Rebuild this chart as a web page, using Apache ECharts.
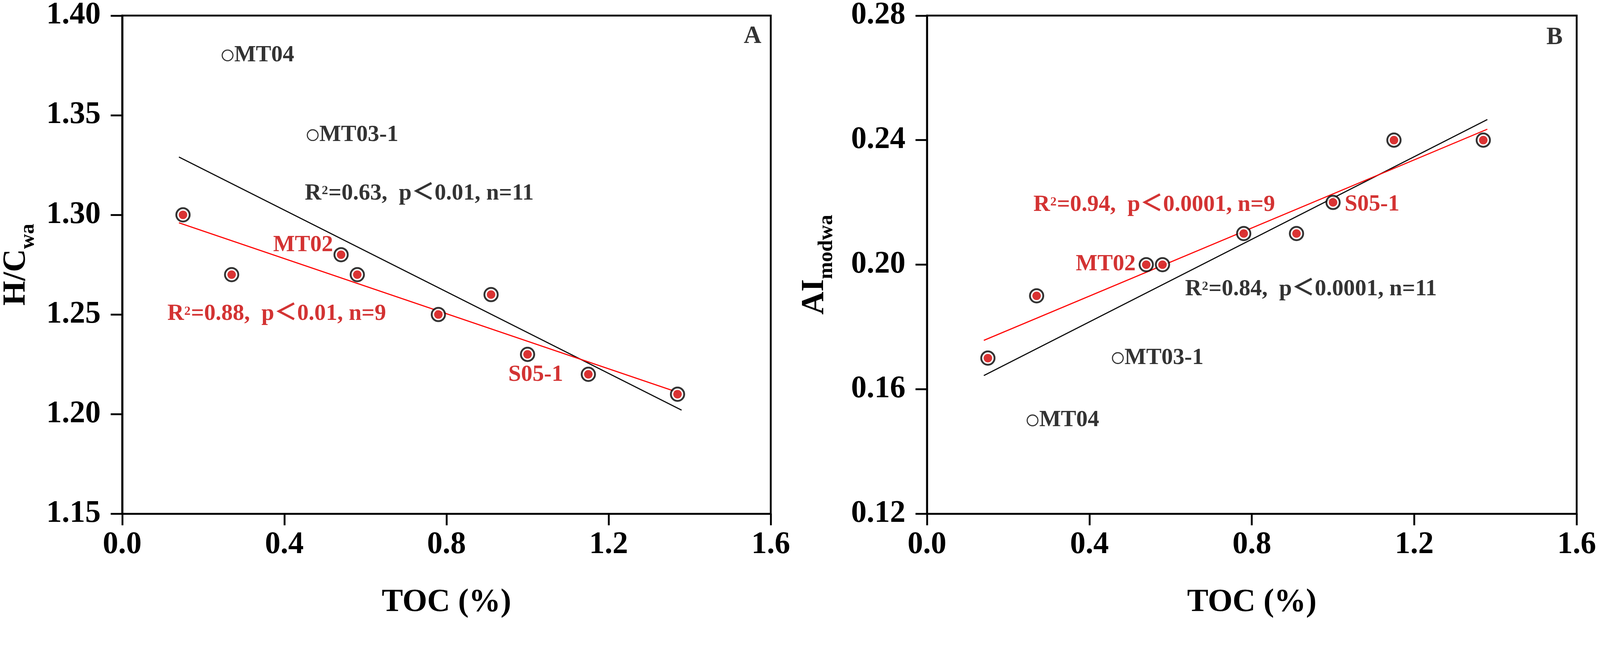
<!DOCTYPE html>
<html>
<head>
<meta charset="utf-8">
<title>H/C and AI vs TOC</title>
<script src="https://cdn.jsdelivr.net/npm/echarts@6/dist/echarts.min.js"></script>
<style>
  html, body { margin: 0; padding: 0; background: #fff; overflow: hidden; }
  #main { width: 100vw; height: 100vh; }
</style>
</head>
<body>
<div id="main"></div>
<script>
var FONT = "'Liberation Serif', 'Times New Roman', 'Noto Sans CJK SC', serif";
var RED_TEXT = '#c80000';
var RED_DOT = '#d10000';
var RED_LINE = '#ff0000';

// samples used in the fit (red dots)
var tocFit = [0.15, 0.27, 0.54, 0.58, 0.78, 0.91, 1.00, 1.15, 1.37];
var hcFit  = [1.30, 1.27, 1.28, 1.27, 1.25, 1.26, 1.23, 1.22, 1.21];
var aiFit  = [0.17, 0.19, 0.20, 0.20, 0.21, 0.21, 0.22, 0.24, 0.24];

// samples left out (open circles)
var outNames = ['MT04', 'MT03-1'];
var tocOut = [0.26, 0.47];
var hcOut  = [1.38, 1.34];
var aiOut  = [0.15, 0.17];

// regression lines, ends
var lineX      = [0.14, 1.38];
var lineXRedA  = [0.14, 1.37];
var hcLineAll  = [1.329, 1.202];   // n=11, black
var hcLineFit  = [1.296, 1.211];   // n=9, red
var aiLineAll  = [0.1644, 0.2466]; // n=11, black
var aiLineFit  = [0.1757, 0.2435]; // n=9, red

// axis ticks
var xTicks  = [0.0, 0.4, 0.8, 1.2, 1.6];
var hcTicks = [1.15, 1.20, 1.25, 1.30, 1.35, 1.40];
var aiTicks = [0.12, 0.16, 0.20, 0.24, 0.28];

// text notes: [x, y, text, isRed]
var notesA = [
    [0.450, 1.3107, 'R²=0.63,  p＜0.01, n=11', false],
    [0.372, 1.2847, 'MT02', true],
    [0.111, 1.2502, 'R²=0.88,  p＜0.01, n=9', true],
    [0.952, 1.2196, 'S05-1', true],
    [1.533, 1.3894, 'A', false]
];
var notesB = [
    [0.2615, 0.2192, 'R²=0.94,  p＜0.0001, n=9', true],
    [1.028, 0.2193, 'S05-1', true],
    [0.366, 0.2001, 'MT02', true],
    [0.635, 0.1921, 'R²=0.84,  p＜0.0001, n=11', false],
    [1.525, 0.2728, 'B', false]
];

function pairs(xs, ys) {
    return xs.map(function (x, i) { return [x, ys[i]]; });
}

var chart = echarts.init(document.getElementById('main'));

// layout was measured on a 4322 x 1682 picture; scale it to the real canvas
var sx = chart.getWidth() / 4322;
var sy = chart.getHeight() / 1682;
var s = Math.min(sx, sy);
function px(v) { return v * s; }

function xAxisFor(idx) {
    return {
        gridIndex: idx,
        type: 'value',
        min: xTicks[0],
        max: xTicks[xTicks.length - 1],
        interval: 0.4,
        name: 'TOC (%)',
        nameLocation: 'middle',
        nameGap: px(197),
        nameTextStyle: { fontFamily: FONT, fontWeight: 'bold', fontSize: px(86), color: '#000' },
        axisLine: { lineStyle: { color: '#000', width: px(5) } },
        axisTick: { inside: false, length: px(31), lineStyle: { color: '#000', width: px(5) } },
        axisLabel: {
            margin: px(42), fontFamily: FONT, fontWeight: 'bold', fontSize: px(84), color: '#000',
            showMinLabel: true, showMaxLabel: true, hideOverlap: false,
            formatter: function (v) { return v.toFixed(1); }
        },
        splitLine: { show: false }
    };
}

function yAxisFor(idx, ticks, main, sub, gap) {
    return {
        gridIndex: idx,
        type: 'value',
        min: ticks[0],
        max: ticks[ticks.length - 1],
        interval: Math.round((ticks[1] - ticks[0]) * 100) / 100,
        name: '{m|' + main + '}{s|' + sub + '}',
        nameLocation: 'middle',
        nameGap: px(gap),
        nameTextStyle: {
            rich: {
                m: { fontFamily: FONT, fontWeight: 'bold', fontSize: px(86), lineHeight: px(120), color: '#000' },
                s: { fontFamily: FONT, fontWeight: 'bold', fontSize: px(56), lineHeight: px(56), verticalAlign: 'bottom', color: '#000' }
            }
        },
        axisLine: { lineStyle: { color: '#000', width: px(5) } },
        axisTick: { inside: false, length: px(31), lineStyle: { color: '#000', width: px(5) } },
        axisLabel: {
            margin: px(58), fontFamily: FONT, fontWeight: 'bold', fontSize: px(84), color: '#000',
            showMinLabel: true, showMaxLabel: true,
            formatter: function (v) { return v.toFixed(2); }
        },
        splitLine: { show: false }
    };
}

function seriesFor(idx, fitY, outY, lineAll, lineFit, lineFitX, notes) {
    return [
        {
            type: 'line', xAxisIndex: idx, yAxisIndex: idx, z: 2,
            data: pairs(lineX, lineAll), symbol: 'none',
            lineStyle: { color: '#000', width: px(3) }
        },
        {
            type: 'line', xAxisIndex: idx, yAxisIndex: idx, z: 2,
            data: pairs(lineFitX, lineFit), symbol: 'none',
            lineStyle: { color: RED_LINE, width: px(3) }
        },
        {
            // black ring of the fitted samples
            type: 'scatter', xAxisIndex: idx, yAxisIndex: idx, z: 3,
            data: pairs(tocFit, fitY), symbolSize: px(36),
            itemStyle: { color: '#fff', borderColor: '#000', borderWidth: px(5) }
        },
        {
            type: 'scatter', xAxisIndex: idx, yAxisIndex: idx, z: 4,
            data: pairs(tocFit, fitY), symbolSize: px(23),
            itemStyle: { color: RED_DOT }
        },
        {
            type: 'scatter', xAxisIndex: idx, yAxisIndex: idx, z: 3,
            data: tocOut.map(function (x, i) { return { name: outNames[i], value: [x, outY[i]] }; }),
            symbolSize: px(29),
            itemStyle: { color: '#fff', borderColor: '#000', borderWidth: px(3) },
            label: {
                show: true, position: 'right', distance: px(2), formatter: '{b}',
                fontFamily: FONT, fontWeight: 'bold', fontSize: px(62), color: '#000'
            }
        },
        {
            // annotations
            type: 'scatter', xAxisIndex: idx, yAxisIndex: idx, z: 5,
            silent: true, symbolSize: 1,
            itemStyle: { color: 'rgba(0,0,0,0)' },
            labelLayout: { hideOverlap: false },
            data: notes.map(function (n) {
                return {
                    name: n[2], value: [n[0], n[1]],
                    label: { color: n[3] ? RED_TEXT : '#000', fontSize: px(n[2].length === 1 ? 66 : 62) }
                };
            }),
            label: {
                show: true, position: 'right', distance: 0,
                formatter: function (p) { return p.name.replace('²', '{sup|2}'); },
                fontFamily: FONT, fontWeight: 'bold', fontSize: px(62),
                rich: {
                    sup: {
                        fontFamily: FONT, fontWeight: 'bold', fontSize: px(34),
                        verticalAlign: 'top', padding: [px(7), px(1), 0, px(1)]
                    }
                }
            }
        }
    ];
}

chart.setOption({
    animation: false,
    backgroundColor: '#fff',
    grid: [
        { left: px(325), top: px(41), width: px(1757), height: px(1347), show: true, borderColor: '#000', borderWidth: px(5) },
        { left: px(2504), top: px(41), width: px(1755), height: px(1347), show: true, borderColor: '#000', borderWidth: px(5) }
    ],
    xAxis: [xAxisFor(0), xAxisFor(1)],
    yAxis: [
        yAxisFor(0, hcTicks, 'H/C', 'wa', 226),
        yAxisFor(1, aiTicks, 'AI', 'modwa', 243)
    ],
    series: seriesFor(0, hcFit, hcOut, hcLineAll, hcLineFit, lineXRedA, notesA)
        .concat(seriesFor(1, aiFit, aiOut, aiLineAll, aiLineFit, lineX, notesB))
});
</script>
</body>
</html>
